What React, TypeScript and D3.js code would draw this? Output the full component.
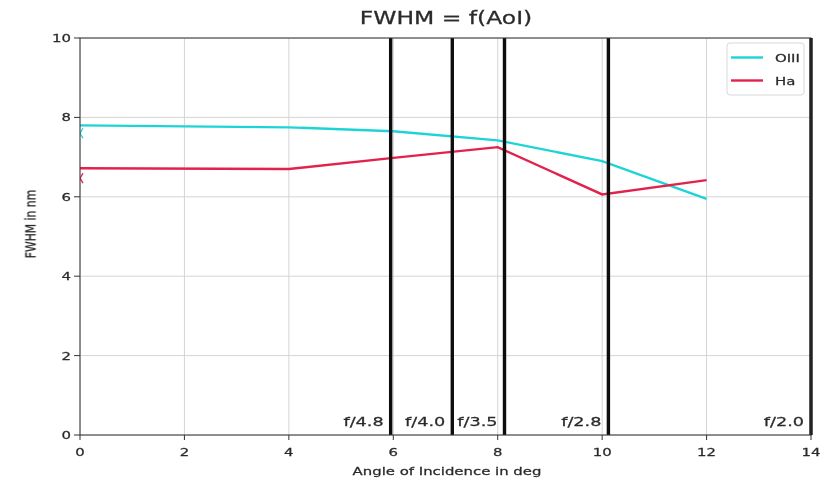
import React from "react";
import * as d3 from "d3";

const angles = [0, 4, 6, 8, 10, 12];
const oiii = [7.8, 7.75, 7.65, 7.42, 6.9, 5.95];
const ha = [6.72, 6.7, 6.98, 7.25, 6.06, 6.42];
const markerOiii = 7.6;
const markerHa = 6.47;
const fLines = [5.95, 7.13, 8.13, 10.12, 14.0];
const fLabels = ["f/4.8", "f/4.0", "f/3.5", "f/2.8", "f/2.0"];
const xTicks = [0, 2, 4, 6, 8, 10, 12, 14];
const yTicks = [0, 2, 4, 6, 8, 10];
const seriesNames = ["OIII", "Ha"];

const W = 831;
const H = 484;
const M = { left: 80, right: 20, top: 38, bottom: 49 };
const SX = 1.38;
const FONT = "'DejaVu Sans', sans-serif";
const CYAN = "#1fd4d6";
const RED = "#e2234d";
const TXT = "#2a2a2a";

function T({ x, y, anchor = "start", size = 10.8, rotate = 0, children }: any) {
  return (
    <text
      transform={`translate(${x},${y}) scale(${SX},1)${rotate ? ` rotate(${rotate})` : ""}`}
      textAnchor={anchor}
      fontFamily={FONT}
      fontSize={size}
      fill={TXT}
      stroke={TXT}
      strokeWidth={0.25}
    >
      {children}
    </text>
  );
}

export default function App() {
  const x = d3.scaleLinear().domain([0, 14]).range([M.left, W - M.right]);
  const y = d3.scaleLinear().domain([0, 10]).range([H - M.bottom, M.top]);
  const line = d3
    .line<[number, number]>()
    .x((d) => x(d[0]))
    .y((d) => y(d[1]));
  const oPts = angles.map((a, i) => [a, oiii[i]] as [number, number]);
  const hPts = angles.map((a, i) => [a, ha[i]] as [number, number]);
  const x0 = x.range()[0];
  const x1 = x.range()[1];
  const y0 = y.range()[0];
  const y1 = y.range()[1];

  const tri = (v: number, c: string) => {
    const cx = x(0);
    const cy = y(v);
    return (
      <path
        d={`M${cx + 3},${cy - 5} L${cx},${cy} L${cx + 3},${cy + 5}`}
        fill="none"
        stroke={c}
        strokeWidth={1.3}
      />
    );
  };

  return (
    <svg width={W} height={H} style={{ position: "absolute", left: 0, top: 0, background: "#fff" }}>
      <defs>
        <clipPath id="plot">
          <rect x={x0} y={y1} width={x1 - x0} height={y0 - y1} />
        </clipPath>
        <filter id="soft" x="0" y="0" width="100%" height="100%">
          <feGaussianBlur stdDeviation="0.4" />
        </filter>
      </defs>
      <rect x={0} y={0} width={W} height={H} fill="#fff" />
      <g filter="url(#soft)">
        {/* grid */}
        {xTicks.map((t) => (
          <line key={"gx" + t} x1={x(t)} x2={x(t)} y1={y1} y2={y0} stroke="#d4d4d4" strokeWidth={1} />
        ))}
        {yTicks.map((t) => (
          <line key={"gy" + t} x1={x0} x2={x1} y1={y(t)} y2={y(t)} stroke="#d4d4d4" strokeWidth={1} />
        ))}
        {/* data */}
        <g clipPath="url(#plot)">
          <path d={line(oPts) || ""} fill="none" stroke={CYAN} strokeWidth={2.4} />
          <path d={line(hPts) || ""} fill="none" stroke={RED} strokeWidth={2.4} />
          {tri(markerOiii, CYAN)}
          {tri(markerHa, RED)}
        </g>
        {/* f-number lines */}
        {fLines.map((v, i) => (
          <g key={"f" + i}>
            <line x1={x(v)} x2={x(v)} y1={y1} y2={y0} stroke="#111" strokeWidth={3.4} />
            <T x={x(v) - 7} y={y(0) - 9} anchor="end" size={12.8}>
              {fLabels[i]}
            </T>
          </g>
        ))}
        {/* spines */}
        <rect x={x0} y={y1} width={x1 - x0} height={y0 - y1} fill="none" stroke="#333" strokeWidth={1} />
        {/* x ticks */}
        {xTicks.map((t) => (
          <g key={"xt" + t}>
            <line x1={x(t)} x2={x(t)} y1={y0} y2={y0 + 5} stroke="#333" strokeWidth={1} />
            <T x={x(t)} y={y0 + 21} anchor="middle">
              {t}
            </T>
          </g>
        ))}
        {/* y ticks */}
        {yTicks.map((t) => (
          <g key={"yt" + t}>
            <line x1={x0 - 6} x2={x0} y1={y(t)} y2={y(t)} stroke="#333" strokeWidth={1} />
            <T x={x0 - 9} y={y(t) + 4} anchor="end">
              {t}
            </T>
          </g>
        ))}
        {/* labels */}
        <T x={447} y={475} anchor="middle">
          Angle of Incidence in deg
        </T>
        <T x={35} y={224} anchor="middle" rotate={-90}>
          FWHM in nm
        </T>
        <T x={446} y={24} anchor="middle" size={17}>
          FWHM = f(AoI)
        </T>
        {/* legend */}
        <rect x={727} y={43} width={77} height={52} rx={3} fill="#fff" fillOpacity={0.85} stroke="#d8d8d8" strokeWidth={1} />
        {[CYAN, RED].map((c, i) => (
          <g key={"lg" + i}>
            <line x1={731} x2={763} y1={57.5 + i * 23} y2={57.5 + i * 23} stroke={c} strokeWidth={2.4} />
            <T x={775} y={61.5 + i * 23}>
              {seriesNames[i]}
            </T>
          </g>
        ))}
      </g>
    </svg>
  );
}
